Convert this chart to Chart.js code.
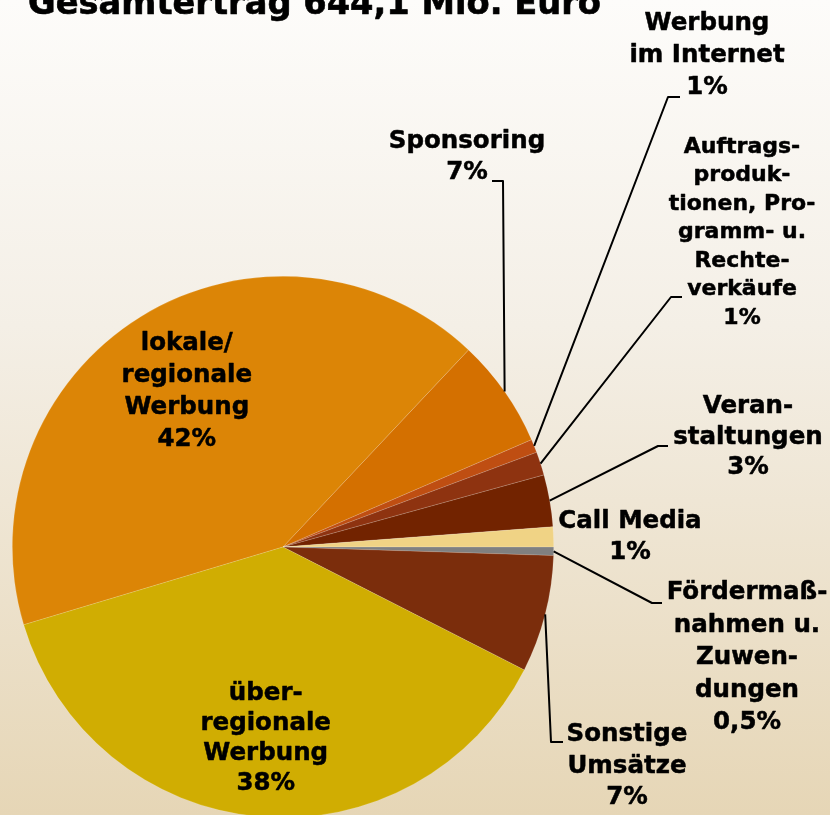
<!DOCTYPE html>
<html lang="de">
<head>
<meta charset="utf-8">
<title>Gesamtertrag 644,1 Mio. Euro</title>
<script src="https://cdn.jsdelivr.net/npm/chart.js@4.4.1/dist/chart.umd.min.js"></script>
<style>
    html, body {
        margin: 0;
        padding: 0;
        width: 830px;
        height: 815px;
        overflow: hidden;
    }
    body {
        background: linear-gradient(to bottom, #fdfcfa 0%, #f4efe6 40%, #e6d6b6 100%);
    }
    .chart-box {
        position: relative;
        width: 830px;
        height: 830px;
    }
</style>
</head>
<body>
<div class="chart-box">
    <canvas id="ertragChart"></canvas>
</div>
<script>
// Daten (Anteile, in %)
const TITEL = 'Gesamtertrag 644,1 Mio. Euro';
const KATEGORIEN = [
    'lokale/regionale Werbung',
    'Sponsoring',
    'Werbung im Internet',
    'Auftragsproduktionen, Programm- u. Rechteverkäufe',
    'Veranstaltungen',
    'Call Media',
    'Fördermaßnahmen u. Zuwendungen',
    'Sonstige Umsätze',
    'überregionale Werbung'
];
const ANTEILE = [41.7, 6.5, 0.8, 1.4, 3.1, 1.2, 0.5, 7.0, 37.9];
const PROZENT_TEXTE = ['42%', '7%', '1%', '1%', '3%', '1%', '0,5%', '7%', '38%'];
const LABEL_ZEILEN = [
    ['lokale/', 'regionale', 'Werbung'],
    ['Sponsoring'],
    ['Werbung', 'im Internet'],
    ['Auftrags-', 'produk-', 'tionen, Pro-', 'gramm- u.', 'Rechte-', 'verkäufe'],
    ['Veran-', 'staltungen'],
    ['Call Media'],
    ['Fördermaß-', 'nahmen u.', 'Zuwen-', 'dungen'],
    ['Sonstige', 'Umsätze'],
    ['über-', 'regionale', 'Werbung']
];

(() => {
    const FARBEN = ['#dc8506', '#d47000', '#bf4e12', '#8e3310', '#722300', '#f0d385', '#808080', '#7b2d0c', '#d0ad02'];
    const FONT = '"DejaVu Sans", sans-serif';

    // Beschriftungs-Layout: innen (r = Anteil vom Radius) oder außen mit Führungslinie
    const LAYOUT = [
        { innen: true, r: 0.676, lh: 32, size: 24.5 },
        { x: 467, y: 142, lh: 31, size: 24.5, knick: [503, 181], ende: [492, 181] },
        { x: 707, y: 24, lh: 32, size: 24.5, knick: [668, 97], ende: [680, 97] },
        { x: 742, y: 147, lh: 28.5, size: 22, knick: [671, 297], ende: [682, 297] },
        { x: 748, y: 407, lh: 30.5, size: 24.5, knick: [658, 446], ende: [668, 446] },
        { x: 630, y: 522, lh: 31, size: 24.5 },
        { x: 747, y: 593, lh: 32.5, size: 24.5, knick: [652, 603], ende: [662, 603] },
        { x: 627, y: 735, lh: 31.5, size: 24.5, knick: [551, 742], ende: [563, 742] },
        { innen: true, r: 0.712, lh: 30, size: 24.5 }
    ];

    function fetterText(ctx, t, x, y) {
        ctx.fillText(t, x, y);
        ctx.strokeText(t, x, y);
    }

    // Plugin: Titel, Führungslinien und Texte
    const beschriftung = {
        id: 'beschriftung',
        afterDraw(chart) {
            const ctx = chart.ctx;
            const arcs = chart.getDatasetMeta(0).data;
            ctx.save();
            ctx.fillStyle = '#000';
            ctx.strokeStyle = '#000';
            ctx.lineJoin = 'round';
            ctx.textBaseline = 'alphabetic';
            ctx.textAlign = 'left';
            ctx.font = `bold 33.7px ${FONT}`;
            ctx.lineWidth = 0.6;
            fetterText(ctx, TITEL, 28, 14);

            ctx.textBaseline = 'middle';
            ctx.textAlign = 'center';
            arcs.forEach((arc, i) => {
                const l = LAYOUT[i];
                const mitte = (arc.startAngle + arc.endAngle) / 2;
                const zeilen = LABEL_ZEILEN[i].concat(PROZENT_TEXTE[i]);
                let x, y0;
                if (l.innen) {
                    const r = arc.outerRadius * l.r;
                    x = arc.x + Math.cos(mitte) * r;
                    y0 = arc.y + Math.sin(mitte) * r - (zeilen.length - 1) * l.lh / 2;
                } else {
                    x = l.x;
                    y0 = l.y;
                    if (l.knick) {
                        const px = arc.x + Math.cos(mitte) * arc.outerRadius;
                        const py = arc.y + Math.sin(mitte) * arc.outerRadius;
                        ctx.beginPath();
                        ctx.moveTo(px, py);
                        ctx.lineTo(l.knick[0], l.knick[1]);
                        ctx.lineTo(l.ende[0], l.ende[1]);
                        ctx.lineWidth = 2;
                        ctx.stroke();
                    }
                }
                ctx.font = `bold ${l.size}px ${FONT}`;
                ctx.lineWidth = 0.5;
                zeilen.forEach((t, k) => fetterText(ctx, t, x, y0 + k * l.lh));
            });
            ctx.restore();
        }
    };

    new Chart(document.getElementById('ertragChart'), {
        type: 'pie',
        data: {
            labels: KATEGORIEN,
            datasets: [{
                data: ANTEILE,
                backgroundColor: FARBEN,
                borderColor: 'rgba(255,255,255,0.25)',
                borderWidth: 0.6
            }]
        },
        options: {
            responsive: true,
            maintainAspectRatio: false,
            animation: false,
            rotation: 253.3,
            layout: { padding: { left: 12, right: 276, top: 276, bottom: 12 } },
            plugins: {
                legend: { display: false },
                tooltip: { enabled: false }
            }
        },
        plugins: [beschriftung]
    });
})();
</script>
</body>
</html>
